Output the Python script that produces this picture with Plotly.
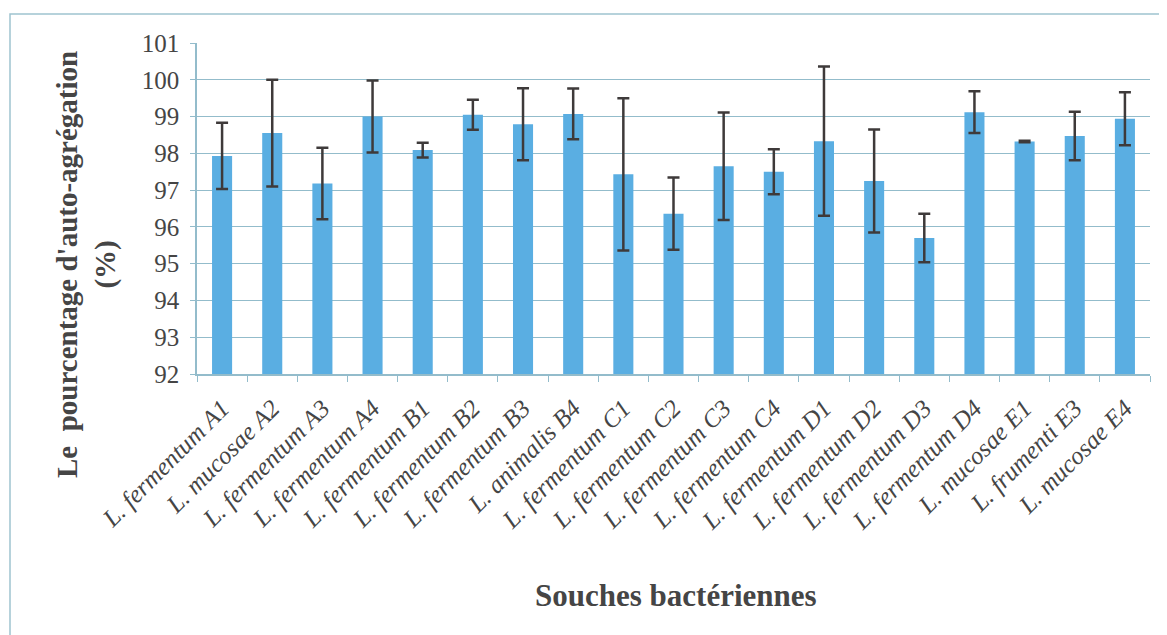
import plotly.graph_objects as go

categories = [
    "L. fermentum A1", "L. mucosae A2", "L. fermentum A3", "L. fermentum A4",
    "L. fermentum B1", "L. fermentum B2", "L. fermentum B3", "L. animalis B4",
    "L. fermentum C1", "L. fermentum C2", "L. fermentum C3", "L. fermentum C4",
    "L. fermentum D1", "L. fermentum D2", "L. fermentum D3", "L. fermentum D4",
    "L. mucosae E1", "L. frumenti E3", "L. mucosae E4",
]
values = [97.93, 98.55, 97.18, 99.0, 98.09, 99.05, 98.79, 99.07, 97.43, 96.36,
          97.65, 97.5, 98.33, 97.25, 95.7, 99.12, 98.32, 98.47, 98.94]
errors = [0.9, 1.45, 0.97, 0.98, 0.2, 0.41, 0.98, 0.69, 2.07, 0.98,
          1.46, 0.61, 2.03, 1.4, 0.66, 0.57, 0.02, 0.66, 0.72]
y_ticks = [92, 93, 94, 95, 96, 97, 98, 99, 100, 101]

grid_col = "#93bccb"
text_col = "#454545"
serif = "Liberation Serif, Times New Roman, serif"

# plot area (figure coords; page has an 8px body offset)
L, T, W, H = 189, 35, 953, 331

fig = go.Figure(go.Bar(
    x=categories, y=values,
    marker=dict(color="#5aaee2", line=dict(width=0)),
    error_y=dict(type="data", array=errors, visible=True,
                 color="#3e3a3a", thickness=2.5, width=6),
))

fig.update_layout(
    width=1167, height=635,
    paper_bgcolor="white", plot_bgcolor="white",
    margin=dict(l=L, r=1167 - L - W, t=T, b=635 - T - H),
    bargap=0.6,
    showlegend=False,
    font=dict(family=serif, color=text_col),
    shapes=[dict(type="rect", xref="paper", yref="paper",
                 x0=(2 - L) / W, x1=(1157 - L) / W,
                 y0=-(700 - T - H) / H, y1=1 + (T - 6) / H,
                 line=dict(color="#9fc3d0", width=1.5), layer="below")],
    annotations=[
        dict(text="<b>Souches bactériennes</b>", xref="paper", yref="paper",
             x=(668 - L) / W, y=(T + H - 587) / H, xanchor="center", yanchor="middle",
             showarrow=False, font=dict(family=serif, size=31, color=text_col)),
        dict(text="<b>Le  pourcentage d'auto-agrégation<br>(%)</b>",
             xref="paper", yref="paper", textangle=-90,
             x=(78 - L) / W, y=(T + H - 257) / H, xanchor="center", yanchor="middle",
             showarrow=False, font=dict(family=serif, size=29, color=text_col)),
    ],
)

fig.update_xaxes(
    type="category",
    tickangle=-45,
    tickfont=dict(family=serif, size=25, color=text_col, style="italic"),
    showline=True, linecolor=grid_col, linewidth=1.5,
    ticks="outside", ticklen=6, tickcolor=grid_col, tickson="boundaries",
    ticklabelstandoff=8,
    showgrid=False,
)

fig.update_yaxes(
    range=[92, 101], tickvals=y_ticks,
    tickfont=dict(family=serif, size=25, color=text_col),
    showline=True, linecolor=grid_col, linewidth=1.5,
    ticks="outside", ticklen=5, tickcolor=grid_col, ticklabelstandoff=6,
    showgrid=True, gridcolor=grid_col, gridwidth=1.2,
    zeroline=False,
)

fig.write_html("out.html")
